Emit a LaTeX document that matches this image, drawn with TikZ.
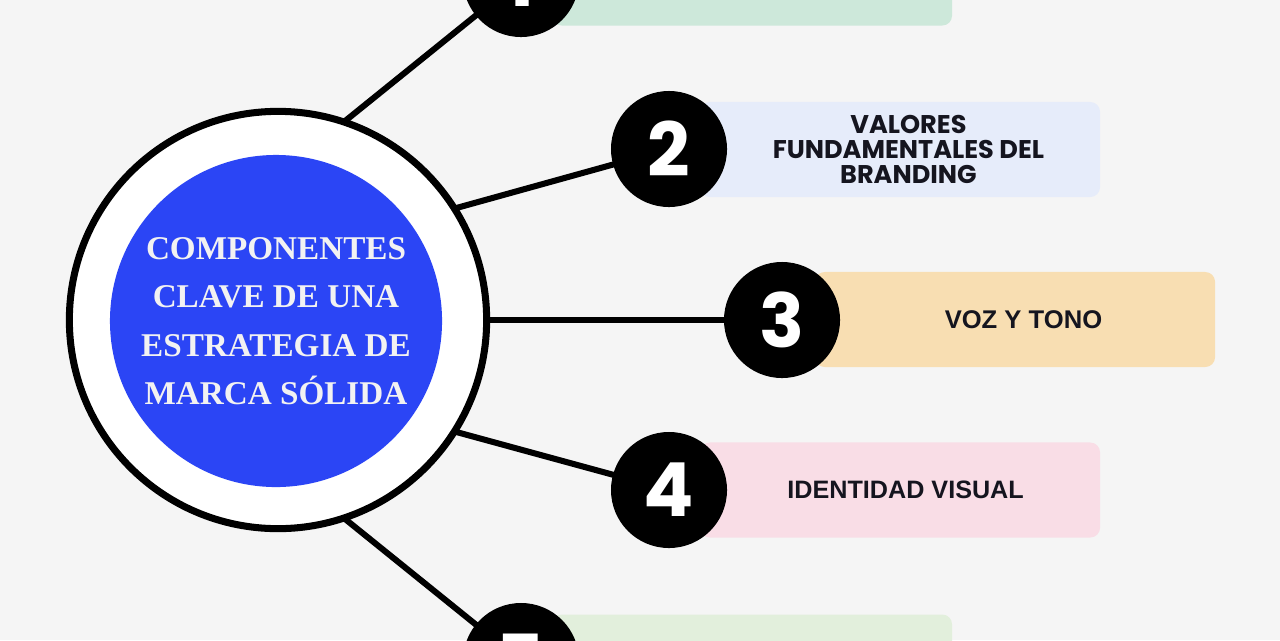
\documentclass[tikz,border=0pt]{standalone}
\usepackage{fontspec}
\setmainfont{Liberation Serif}
\newfontfamily\popfont{Poppins}
\newfontfamily\labfont{Liberation Sans}
\usetikzlibrary{positioning}
\definecolor{bgrey}{HTML}{F5F5F5}
\definecolor{mblue}{HTML}{2B45F5}
\definecolor{cgreen}{HTML}{CDE8DA}
\definecolor{cblue}{HTML}{E6ECFA}
\definecolor{corange}{HTML}{F8DEB2}
\definecolor{cpink}{HTML}{F9DDE6}
\definecolor{clime}{HTML}{E2EFDC}
\definecolor{ink}{HTML}{15151F}

\tikzset{
  hub/.style={circle, draw=black, line width=5pt, fill=white, minimum size=10.43cm, inner sep=0pt},
  core/.style={circle, fill=mblue, minimum size=8.3cm, inner sep=0pt, text=white!95!black,
    font=\fontsize{23.6}{34.5}\selectfont\bfseries, align=center},
  num/.style={circle, fill=black, minimum size=2.9cm, inner sep=0pt, text=white,
    font=\popfont\fontsize{53}{53}\selectfont\bfseries},
  card/.style={rectangle, rounded corners=7pt, minimum width=10cm, minimum height=2.375cm,
    inner sep=0pt},
  cardtext/.style={text=ink, align=center, inner sep=0pt},
  spoke/.style={line width=4.3pt, shorten <=-3pt, shorten >=-4pt}
}

\begin{document}
\begin{tikzpicture}[x=0.025cm, y=-0.025cm]
  \useasboundingbox (0,0) rectangle (1280,640);
  \clip (0,0) rectangle (1280,640);
  \fill[bgrey] (0,0) rectangle (1280,640);

  % cajas
  \node[card, fill=cgreen] (c1) at (752,-22) {};
  \node[card, fill=cblue] (c2) at (900,149.5) {};
  \node[card, fill=corange] (c3) at (1015,319.5) {};
  \node[card, fill=cpink] (c4) at (900,490) {};
  \node[card, fill=clime] (c5) at (752,662) {};

  \node[cardtext, font=\popfont\fontsize{18.2}{17.9}\selectfont\bfseries] (t2) at ([xshift=6] c2.center)
    {VALORES\\FUNDAMENTALES DEL\\BRANDING};
  \node[cardtext, font=\labfont\fontsize{18.2}{20}\selectfont\bfseries] (t3) at ([xshift=6] c3.center)
    {VOZ Y TONO};
  \node[cardtext, font=\labfont\fontsize{17.9}{20}\selectfont\bfseries] (t4) at ([xshift=4] c4.center)
    {IDENTIDAD VISUAL};

  % centro
  \node[hub] (hub) at (278,320) {};
  \node[core] (core) at (276,321) {COMPONENTES\\CLAVE DE UNA\\ESTRATEGIA DE\\MARCA SÓLIDA};

  % numeros
  \node[num] (n1) at (521,-21) {1};
  \node[num] (n2) at (669,149) {2};
  \node[num] (n3) at (782,320) {3};
  \node[num] (n4) at (669,490) {4};
  \node[num] (n5) at (521,661) {5};

  \draw[spoke] (hub.71) -- (n1);
  \draw[spoke] (hub.32) -- (n2);
  \draw[spoke] (hub.0) -- (n3);
  \draw[spoke] (hub.-32) -- (n4);
  \draw[spoke] (hub.-71) -- (n5);
\end{tikzpicture}
\end{document}
